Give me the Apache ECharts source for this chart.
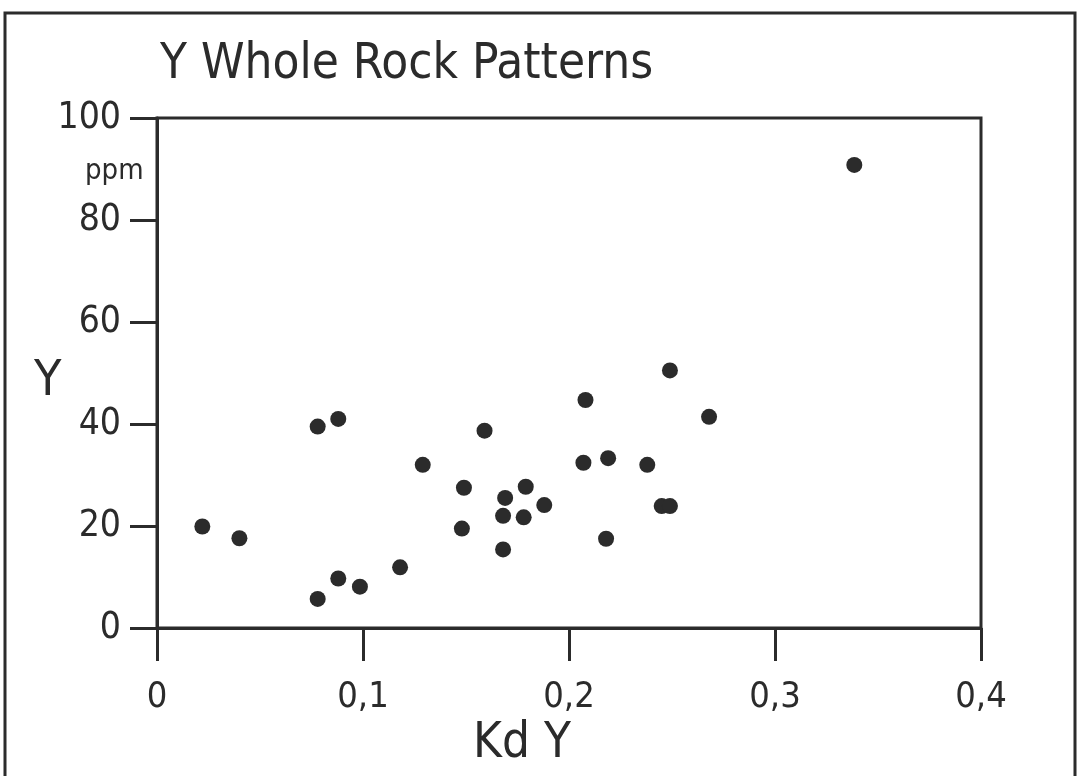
<!DOCTYPE html>
<html>
<head>
<meta charset="utf-8">
<title>Y Whole Rock Patterns</title>
<script src="https://cdn.jsdelivr.net/npm/echarts@6/dist/echarts.min.js"></script>
<style>
  html, body { margin: 0; padding: 0; background: #ffffff; }
  #chart { width: 1078px; height: 776px; }
</style>
</head>
<body>
<div id="chart"></div>
<script>
// Partition coefficient Kd for Y against whole-rock Y concentration (ppm)
const kdY = [0.022, 0.040, 0.078, 0.088, 0.129, 0.159, 0.149, 0.148, 0.169, 0.179,
             0.168, 0.178, 0.188, 0.168, 0.208, 0.207, 0.118, 0.088, 0.0985, 0.078,
             0.249, 0.268, 0.219, 0.238, 0.245, 0.249, 0.218, 0.3385];
const yPpm = [19.9, 17.6, 39.5, 41.0, 32.0, 38.7, 27.5, 19.5, 25.5, 27.7,
              22.0, 21.7, 24.1, 15.4, 44.7, 32.4, 11.9, 9.7, 8.1, 5.7,
              50.5, 41.4, 33.3, 32.0, 23.9, 23.9, 17.5, 90.8];
const xTicks = [0, 0.1, 0.2, 0.3, 0.4];
const yTicks = [0, 20, 40, 60, 80, 100];

const ink = '#2b2b2b';
const font = '"Liberation Sans Narrow", "DejaVu Sans Condensed", "Liberation Sans", sans-serif';

const points = kdY.map((x, i) => [x, yPpm[i]]);

const chart = echarts.init(document.getElementById('chart'), null, { renderer: 'canvas' });
chart.setOption({
  backgroundColor: '#ffffff',
  animation: false,
  grid: {
    left: 157, right: 97, top: 118, bottom: 148,
    show: true, borderColor: ink, borderWidth: 3, backgroundColor: 'transparent'
  },
  xAxis: {
    type: 'value',
    min: xTicks[0], max: xTicks[xTicks.length - 1], interval: 0.1,
    axisLine: { show: true, onZero: false, lineStyle: { color: ink, width: 3 } },
    axisTick: { show: true, inside: false, length: 33, lineStyle: { color: ink, width: 3 } },
    splitLine: { show: false },
    axisLabel: {
      margin: 52, color: ink, fontFamily: font, fontSize: 36,
      formatter: v => String(+v.toFixed(1)).replace('.', ',')
    }
  },
  yAxis: {
    type: 'value',
    min: yTicks[0], max: yTicks[yTicks.length - 1], interval: 20,
    axisLine: { show: true, onZero: false, lineStyle: { color: ink, width: 3 } },
    axisTick: { show: true, inside: false, length: 27, lineStyle: { color: ink, width: 3 } },
    splitLine: { show: false },
    axisLabel: { margin: 36, color: ink, fontFamily: font, fontSize: 37 }
  },
  graphic: [
    {
      type: 'rect', silent: true, z: -1,
      shape: { x: 5, y: 13, width: 1070, height: 800 },
      style: { fill: 'none', stroke: ink, lineWidth: 3 }
    },
    {
      type: 'text', left: 160, top: 41,
      style: { text: 'Y Whole Rock Patterns', fill: ink, font: '49px ' + font }
    },
    {
      type: 'text', left: 85, top: 157,
      style: { text: 'ppm', fill: ink, font: '29px ' + font }
    },
    {
      type: 'text', left: 34, top: 357,
      style: { text: 'Y', fill: ink, font: '50px ' + font }
    },
    {
      type: 'text', left: 473, top: 720,
      style: { text: 'Kd Y', fill: ink, font: '49px ' + font }
    }
  ],
  series: [{
    type: 'scatter',
    data: points,
    symbol: 'circle',
    symbolSize: 16,
    itemStyle: { color: ink, opacity: 1 }
  }]
});
</script>
</body>
</html>
